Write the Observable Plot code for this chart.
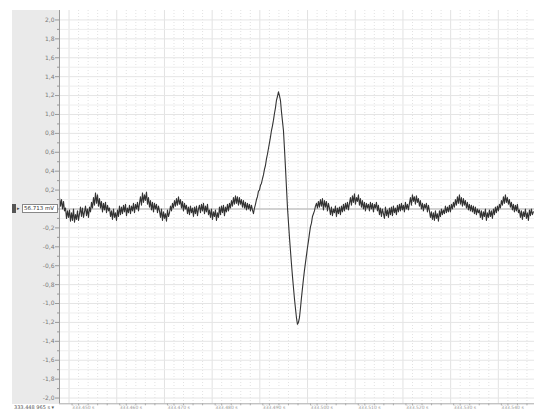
<!DOCTYPE html>
<html><head><meta charset="utf-8">
<script src="https://cdn.jsdelivr.net/npm/d3@7"></script>
<script src="https://cdn.jsdelivr.net/npm/@observablehq/plot@0.6"></script>
<style>
body{margin:0;background:#fff;font-family:"DejaVu Sans",sans-serif;}
#wrap{position:relative;width:534px;height:410px;overflow:hidden;background:#fff;}
#panel{position:absolute;left:12px;top:10px;width:47px;height:394px;background:#eaeaea;}
#chart{position:absolute;left:0;top:0;}
.ov{position:absolute;z-index:5;font-family:"DejaVu Sans",sans-serif;color:#333;white-space:nowrap;}
#sq{left:12px;top:204px;width:4px;height:9px;background:#555;}
#arr{left:17px;top:204px;font-size:5px;line-height:9px;color:#444;}
#box{left:22px;top:204px;width:33px;height:7px;border:1px solid #888;background:#fff;font-size:5.5px;line-height:7px;padding-left:1px;}
#start{left:14px;top:404px;font-size:5px;line-height:6px;color:#555;}
</style>
</head><body>
<div id="wrap">
  <div id="panel"></div>
  <div id="chart"></div>
  <div class="ov" id="sq"></div>
  <div class="ov" id="arr">&#9656;</div>
  <div class="ov" id="box"></div>
  <div class="ov" id="start"></div>
</div>
<script>
// ---- data ----
const startLabel = "333.448 965 s \u25BE";
const cursorLabel = "56.713 mV";
const cursorValue = 0;
const sampleStartMs = -2;
const sampleStepMs = 0.2096;
const signal = [
 0.12,0.03,0.10,0.00,0.08,-0.02,0.01,-0.10,-0.02,-0.09,
 -0.01,-0.13,-0.04,-0.12,0.00,-0.14,-0.06,-0.11,-0.02,-0.12,
 -0.05,0.02,-0.08,0.01,-0.09,-0.03,0.03,-0.07,0.00,-0.09,
 0.02,-0.03,0.07,0.01,0.12,0.04,0.17,0.06,0.15,0.03,
 0.11,0.01,0.08,-0.03,0.06,-0.01,0.07,-0.04,0.04,-0.02,
 0.01,-0.08,-0.02,-0.11,0.00,-0.09,-0.04,-0.12,-0.01,-0.08,
 0.03,-0.06,0.02,-0.05,0.04,-0.03,0.05,-0.07,0.01,-0.04,
 0.04,-0.05,0.03,-0.02,0.06,-0.04,0.05,0.00,0.07,-0.02,
 0.06,0.13,0.04,0.17,0.07,0.15,0.09,0.18,0.05,0.12,
 0.02,0.09,-0.01,0.07,-0.03,0.06,0.00,0.05,-0.04,0.03,
 -0.02,-0.09,0.00,-0.12,-0.03,-0.10,-0.05,-0.13,-0.01,-0.08,
 -0.04,0.03,-0.02,0.06,0.01,0.09,0.03,0.11,0.04,0.13,
 0.05,0.10,0.01,0.08,-0.02,0.06,0.00,0.04,-0.05,0.02,
 -0.06,0.03,-0.04,0.01,-0.08,0.02,-0.05,0.03,-0.07,0.00,
 0.04,-0.04,0.05,-0.02,0.06,-0.05,0.03,-0.03,0.05,-0.06,
 -0.01,-0.09,0.00,-0.11,-0.03,-0.08,-0.01,-0.12,-0.04,-0.09,
 0.02,-0.06,0.03,-0.04,0.04,-0.07,0.02,-0.03,0.05,-0.02,
 0.06,0.01,0.09,0.03,0.12,0.05,0.14,0.06,0.13,0.04,
 0.12,0.05,0.10,0.02,0.09,0.01,0.07,-0.01,0.06,0.00,
 0.05,-0.02,0.04,-0.01,-0.05,0.01,0.05,0.10,0.13,0.19,
 0.20,0.25,0.27,0.32,0.36,0.42,0.46,0.53,0.58,0.64,
 0.70,0.76,0.83,0.88,0.94,1.01,1.07,1.15,1.19,1.24,
 1.20,1.15,1.03,0.93,0.83,0.64,0.44,0.23,0.02,-0.14,
 -0.30,-0.44,-0.58,-0.71,-0.83,-0.95,-1.05,-1.15,-1.22,-1.20,
 -1.15,-1.05,-0.94,-0.84,-0.74,-0.65,-0.57,-0.49,-0.41,-0.34,
 -0.26,-0.19,-0.15,-0.08,-0.05,-0.02,0.03,0.06,0.01,0.08,
 0.02,0.10,0.03,0.11,-0.01,0.09,0.02,0.08,-0.02,0.06,
 0.01,-0.06,0.02,-0.07,0.00,-0.04,0.03,-0.08,0.01,-0.05,
 0.02,-0.06,0.03,-0.03,0.05,-0.02,0.06,0.00,0.07,-0.01,
 0.06,0.12,0.04,0.14,0.07,0.16,0.05,0.12,0.08,0.15,
 0.04,0.11,0.02,0.09,0.00,0.07,-0.02,0.06,0.01,0.05,
 -0.02,0.07,0.00,0.06,-0.03,0.05,0.01,0.07,-0.02,0.04,
 -0.06,0.01,-0.08,0.00,-0.05,-0.10,0.02,-0.07,-0.01,-0.09,
 0.01,-0.06,0.02,-0.07,0.03,-0.04,0.01,-0.06,0.04,-0.03,
 0.05,-0.02,0.06,-0.01,0.04,-0.03,0.07,0.00,0.05,-0.01,
 0.06,0.12,0.04,0.15,0.08,0.13,0.05,0.14,0.07,0.11,
 0.03,0.09,0.00,0.06,-0.02,0.05,0.01,0.06,-0.03,0.04,
 -0.02,-0.09,-0.03,-0.11,-0.04,-0.12,-0.02,-0.10,-0.05,-0.13,
 -0.02,-0.08,0.00,-0.06,-0.01,-0.05,0.03,-0.04,0.02,-0.03,
 0.04,-0.03,0.05,0.00,0.07,0.02,0.10,0.04,0.13,0.06,
 0.15,0.05,0.12,0.03,0.11,0.04,0.09,0.01,0.07,-0.01,
 0.05,-0.02,0.04,-0.03,0.03,-0.05,0.02,-0.06,0.00,-0.04,
 -0.01,-0.09,-0.02,-0.11,-0.03,-0.08,0.00,-0.12,-0.04,-0.09,
 -0.01,-0.08,-0.02,-0.10,0.00,-0.06,0.02,-0.04,0.03,-0.02,
 0.05,0.01,0.09,0.04,0.13,0.06,0.15,0.07,0.12,0.05,
 0.10,0.02,0.07,-0.01,0.05,-0.03,0.04,-0.02,0.05,-0.04,
 -0.01,-0.09,-0.02,-0.11,-0.03,-0.08,0.00,-0.10,-0.04,-0.12,
 -0.01,-0.07,0.00,-0.06,-0.03
];
const xDomain = [-2, 97.58];
const yDomain = [-2.061, 2.10];
const yMajorTicks = [-2.0,-1.8,-1.6,-1.4,-1.2,-1.0,-0.8,-0.6,-0.4,-0.2,0.0,0.2,0.4,0.6,0.8,1.0,1.2,1.4,1.6,1.8,2.0];
const yMinorTicks = [-1.9,-1.7,-1.5,-1.3,-1.1,-0.9,-0.7,-0.5,-0.3,-0.1,0.1,0.3,0.5,0.7,0.9,1.1,1.3,1.5,1.7,1.9];
const xMajorTicks = [0,10,20,30,40,50,60,70,80,90];
const xMajorLabels = ["333.450 s","333.460 s","333.470 s","333.480 s","333.490 s","333.500 s","333.510 s","333.520 s","333.530 s","333.540 s"];
const xMinorTicks = [2,4,6,8,12,14,16,18,22,24,26,28,32,34,36,38,42,44,46,48,52,54,56,58,62,64,66,68,72,74,76,78,82,84,86,88,92,94,96];

// ---- build ----
document.getElementById("start").textContent = startLabel;
document.getElementById("box").textContent = cursorLabel;

const data = signal.map((v, i) => ({t: sampleStartMs + i * sampleStepMs, v}));
const fmt = d => (Math.abs(d) < 1e-9 ? "" : d.toFixed(1).replace(".", ","));

const chart = Plot.plot({
  width: 534, height: 410,
  marginLeft: 59, marginRight: 0, marginTop: 10, marginBottom: 6.7,
  style: {background: "transparent", fontSize: "6px", color: "#7a7a7a", fontFamily: "DejaVu Sans, sans-serif"},
  x: {domain: xDomain, axis: null, label: null},
  y: {domain: yDomain, axis: null, label: null},
  marks: [
    Plot.frame({fill: "white", stroke: null}),
    Plot.gridX(xMinorTicks, {stroke: "#e2e2e2", strokeOpacity: 1, strokeDasharray: "1,2"}),
    Plot.gridX(xMajorTicks, {stroke: "#e2e2e2", strokeOpacity: 1}),
    Plot.gridY(yMinorTicks, {stroke: "#eeeeee", strokeOpacity: 1}),
    Plot.gridY(yMajorTicks, {stroke: "#e5e5e5", strokeOpacity: 1}),
    Plot.ruleY([cursorValue], {stroke: "#b4b4b4"}),
    Plot.line(data, {x: "t", y: "v", stroke: "#333", strokeWidth: 1.1}),
    Plot.ruleX([xDomain[0]], {stroke: "#999"}),
    Plot.ruleY([yDomain[0]], {stroke: "#aaa"}),
    Plot.axisY(yMinorTicks, {anchor: "left", label: null, tickSize: 2, tickFormat: () => "", stroke: "#999"}),
    Plot.axisY(yMajorTicks, {anchor: "left", label: null, tickSize: 4, tickPadding: 1, tickFormat: fmt, stroke: "#999", fill: "#7a7a7a"}),
    Plot.axisX(xMinorTicks, {anchor: "bottom", label: null, tickSize: 2, tickFormat: () => "", stroke: "#aaa"}),
    Plot.axisX(xMajorTicks, {anchor: "bottom", label: null, tickSize: 2, tickPadding: 0, textAnchor: "start", dx: 3,
      fontSize: 4.5, tickFormat: d => xMajorLabels[xMajorTicks.indexOf(d)], stroke: "#aaa", fill: "#999"})
  ]
});
document.getElementById("chart").appendChild(chart);
</script>
</body></html>
